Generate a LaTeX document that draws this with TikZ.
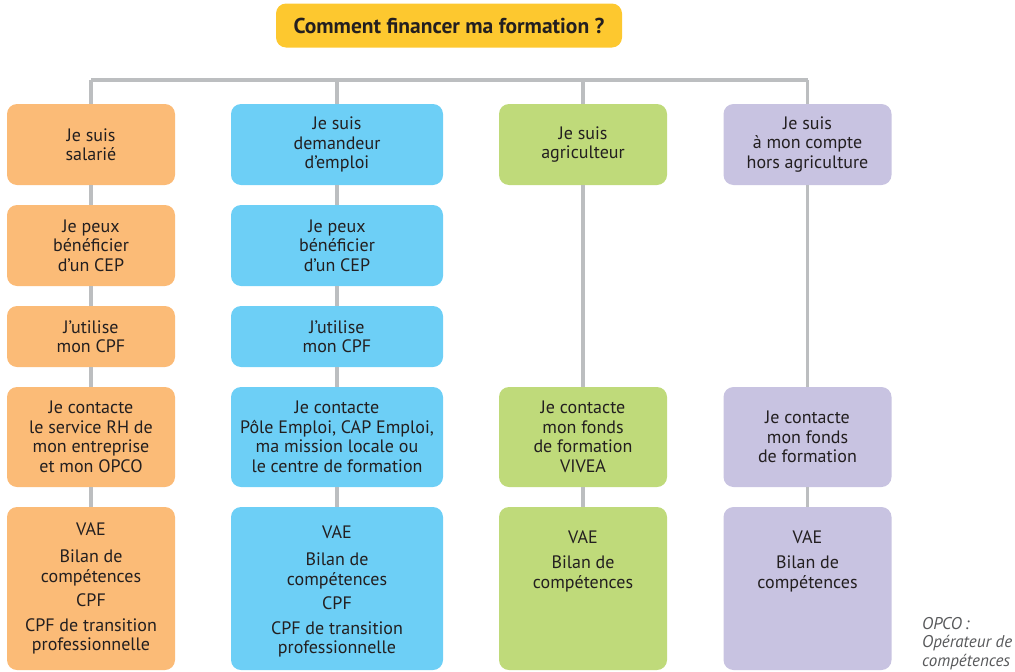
\documentclass[tikz,border=0pt]{standalone}
\usepackage{fontspec}
\setmainfont{PT Sans}
\definecolor{orangebox}{HTML}{FBBB77}
\definecolor{bluebox}{HTML}{6DCFF6}
\definecolor{greenbox}{HTML}{BFDA7A}
\definecolor{purplebox}{HTML}{C8C3E1}
\definecolor{titlebox}{HTML}{FDC82F}
\definecolor{linegray}{HTML}{BCBEC0}
\definecolor{txtcol}{HTML}{231F20}
\definecolor{notegray}{HTML}{58595B}
\begin{document}
\begin{tikzpicture}[x=1pt,y=-1pt,
  box/.style={rounded corners=10pt, inner sep=0pt, align=center, text=txtcol,
    font=\fontsize{18}{19.5}\selectfont},
  wa/.style={minimum width=168pt},
  wb/.style={minimum width=212pt},
  ha/.style={minimum height=81pt},
  hc/.style={minimum height=61pt},
  hd/.style={minimum height=100pt},
  he/.style={minimum height=163pt},
  sal/.style={box, fill=orangebox, wa},
  dem/.style={box, fill=bluebox, wb},
  agr/.style={box, fill=greenbox, wa},
  ind/.style={box, fill=purplebox, wa},
  boxtext/.style={inner sep=0pt, align=center, text=txtcol, anchor=north,
    font=\fontsize{18}{19.5}\selectfont},
  conn/.style={draw=linegray, line width=3.3pt},
  titlestyle/.style={rounded corners=10pt, fill=titlebox, minimum width=346pt,
    minimum height=44pt, inner sep=0pt, text=txtcol,
    font=\fontsize{21.5}{24}\selectfont\bfseries},
  notestyle/.style={inner sep=0pt, anchor=north west, align=left, text=notegray,
    font=\fontsize{17}{18.5}\selectfont\itshape}
]
\useasboundingbox (0,0) rectangle (1015,672);

% title
\node[titlestyle] (title) at (449,25.5) {Comment financer ma formation ?};

% junctions
\coordinate (j1) at (91,80);
\coordinate (j2) at (337,80);
\coordinate (j3) at (583,80);
\coordinate (j4) at (807.5,80);

% column 1 : salarié
\node[sal, ha] (a1) at (91,144.5) {Je suis\\salarié};
\node[sal, ha] (a2) at (91,245.5) {Je peux\\bénéficier\\d’un CEP};
\node[sal, hc] (a3) at (91,336.5) {J’utilise\\mon CPF};
\node[sal, hd] (a4) at (91,437) {Je contacte\\le service RH de\\mon entreprise\\et mon OPCO};
\node[sal, he] (a5) at (91,588.5) {VAE\\[8pt]Bilan de\\compétences\\[5pt]CPF\\[5pt]CPF de transition\\professionnelle};

% column 2 : demandeur d'emploi
\node[dem, ha] (b1) at (337,144.5) {Je suis\\demandeur\\d’emploi};
\node[dem, ha] (b2) at (337,245.5) {Je peux\\bénéficier\\d’un CEP};
\node[dem, hc] (b3) at (337,336.5) {J’utilise\\mon CPF};
\node[dem, hd] (b4) at (337,437) {Je contacte\\Pôle Emploi, CAP Emploi,\\ma mission locale ou\\le centre de formation};
\node[dem, he] (b5) at (337,588.5) {};
\node[boxtext] (b5t) at (337,525) {VAE\\[8pt]Bilan de\\compétences\\[5pt]CPF\\[5pt]CPF de transition\\professionnelle};

% column 3 : agriculteur
\node[agr, ha] (c1) at (583,144.5) {Je suis\\agriculteur};
\node[agr, hd] (c4) at (583,437) {Je contacte\\mon fonds\\de formation\\VIVEA};
\node[agr, he] (c5) at (583,588.5) {};
\node[boxtext] (c5t) at (583,530) {VAE\\[6pt]Bilan de\\compétences};

% column 4 : à mon compte
\node[ind, ha] (d1) at (807.5,144.5) {Je suis\\à mon compte\\hors agriculture};
\node[ind, hd] (d4) at (807.5,437) {Je contacte\\mon fonds\\de formation};
\node[ind, he] (d5) at (807.5,588.5) {};
\node[boxtext] (d5t) at (807.5,530) {VAE\\[6pt]Bilan de\\compétences};

% connectors
\draw[conn] (j1) -- (j4);
\draw[conn] (j1) -- (a1.north);
\draw[conn] (a1.south) -- (a2.north);
\draw[conn] (a2.south) -- (a3.north);
\draw[conn] (a3.south) -- (a4.north);
\draw[conn] (a4.south) -- (a5.north);
\draw[conn] (j2) -- (b1.north);
\draw[conn] (b1.south) -- (b2.north);
\draw[conn] (b2.south) -- (b3.north);
\draw[conn] (b3.south) -- (b4.north);
\draw[conn] (b4.south) -- (b5.north);
\draw[conn] (j3) -- (c1.north);
\draw[conn] (c1.south) -- (c4.north);
\draw[conn] (c4.south) -- (c5.north);
\draw[conn] (j4) -- (d1.north);
\draw[conn] (d1.south) -- (d4.north);
\draw[conn] (d4.south) -- (d5.north);

% note
\node[notestyle] (note) at (922,617) {OPCO\,:\\Opérateur de\\compétences};
\end{tikzpicture}
\end{document}
